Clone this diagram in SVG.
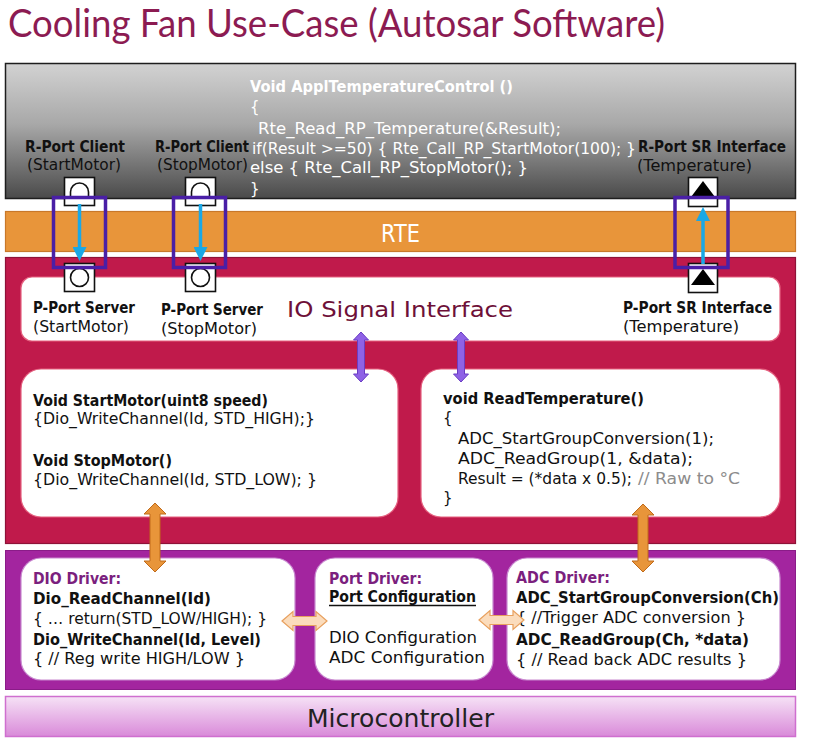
<svg xmlns="http://www.w3.org/2000/svg" width="816" height="746" viewBox="0 0 816 746">
  <defs>
    <linearGradient id="swcGrad" x1="0" y1="0" x2="0" y2="1">
      <stop offset="0" stop-color="#d2d2d2"/>
      <stop offset="0.45" stop-color="#a8a8a8"/>
      <stop offset="1" stop-color="#4a4a4a"/>
    </linearGradient>
    <linearGradient id="mcuGrad" x1="0" y1="0" x2="0" y2="1">
      <stop offset="0" stop-color="#f6e2f6"/>
      <stop offset="1" stop-color="#d98ad9"/>
    </linearGradient>
    <marker id="cyanHead" markerWidth="4" markerHeight="4" refX="2" refY="2" orient="auto" markerUnits="strokeWidth">
      <path d="M0,0 L4,2 L0,4 Z" fill="#1aa8e6"/>
    </marker>
    <style>
      text { font-family: "DejaVu Sans", "Liberation Sans", sans-serif; font-size: 15px; fill: #111; }
      .b { font-weight: bold; }
      .w { fill: #ffffff; }
      .drv { font-weight: bold; fill: #7b1f7e; }
      .cmt { fill: #8c8c8c; }
      .port { fill: #ffffff; stroke: #111; stroke-width: 1.6; }
      .frame { fill: none; stroke: #4a1fa6; stroke-width: 3.5; }
      .wbox { fill: #ffffff; stroke: #e5607f; stroke-width: 1.2; }
      .pbox { fill: #ffffff; stroke: #c98ad0; stroke-width: 1.2; }
      .cyan { stroke: #1aa8e6; stroke-width: 3.5; fill: none; }
      .parrow { fill: #8f62e6; stroke: #6a3cc4; stroke-width: 1; }
      .oarrow { fill: #e8953a; stroke: #c06a1a; stroke-width: 1; }
      .larrow { fill: #fbdcbc; stroke: #e8a05e; stroke-width: 1.2; }
    </style>
  </defs>

  <rect width="816" height="746" fill="#ffffff"/>

  <!-- title -->
  <text x="8" y="37" style="font-family: Lato, 'Open Sans', sans-serif; font-size: 38px; fill: #8c1b52;" textLength="657" lengthAdjust="spacingAndGlyphs">Cooling Fan Use-Case (Autosar Software)</text>

  <!-- application software component -->
  <g id="app-swc">
    <rect x="5.5" y="63.5" width="790" height="135" fill="url(#swcGrad)" stroke="#1e1e1e" stroke-width="1.5"/>
    <text class="b w" x="250" y="92" textLength="263" lengthAdjust="spacingAndGlyphs">Void ApplTemperatureControl ()</text>
    <text class="w" x="250" y="112">{</text>
    <text class="w" x="258" y="134" textLength="303" lengthAdjust="spacingAndGlyphs">Rte_Read_RP_Temperature(&amp;Result);</text>
    <text class="w" x="252" y="154" textLength="384" lengthAdjust="spacingAndGlyphs">if(Result &gt;=50) { Rte_Call_RP_StartMotor(100); }</text>
    <text class="w" x="250" y="173" textLength="278" lengthAdjust="spacingAndGlyphs">else { Rte_Call_RP_StopMotor(); }</text>
    <text class="w" x="250" y="194">}</text>
  </g>

  <!-- RTE -->
  <g id="rte">
    <rect x="5.5" y="211.5" width="790" height="40" fill="#e8953a" stroke="#c8782a" stroke-width="1.2"/>
    <text x="381" y="242" style="font-size: 25px; fill: #ffffff;" textLength="39" lengthAdjust="spacingAndGlyphs">RTE</text>
  </g>

  <!-- IO hardware abstraction -->
  <g id="io-abstraction">
    <rect x="5.5" y="257.5" width="790" height="286" fill="#c01a4b" stroke="#8e1238" stroke-width="1.2"/>
  </g>

  <g id="io-signal-interface">
    <rect class="wbox" x="21" y="277" width="759" height="64" rx="11"/>
    <text x="287" y="317" style="font-size: 21px; fill: #6e1038;" textLength="226" lengthAdjust="spacingAndGlyphs">IO Signal Interface</text>
  </g>

  <g id="motor-functions">
    <rect class="wbox" x="21" y="369" width="377" height="148" rx="20"/>
    <text class="b" x="33" y="406" textLength="235" lengthAdjust="spacingAndGlyphs">Void StartMotor(uint8 speed)</text>
    <text x="33" y="424" textLength="282" lengthAdjust="spacingAndGlyphs">{Dio_WriteChannel(Id, STD_HIGH);}</text>
    <text class="b" x="33" y="466" textLength="139" lengthAdjust="spacingAndGlyphs">Void StopMotor()</text>
    <text x="33" y="485" textLength="284" lengthAdjust="spacingAndGlyphs">{Dio_WriteChannel(Id, STD_LOW); }</text>
  </g>

  <g id="read-temperature">
    <rect class="wbox" x="421" y="369" width="359" height="148" rx="20"/>
    <text class="b" x="443" y="404" textLength="201" lengthAdjust="spacingAndGlyphs">void ReadTemperature()</text>
    <text x="443" y="423">{</text>
    <text x="458" y="444" textLength="256" lengthAdjust="spacingAndGlyphs">ADC_StartGroupConversion(1);</text>
    <text x="458" y="464" textLength="235" lengthAdjust="spacingAndGlyphs">ADC_ReadGroup(1, &amp;data);</text>
    <text x="458" y="484" textLength="174" lengthAdjust="spacingAndGlyphs">Result = (*data x 0.5);</text>
    <text class="cmt" x="638" y="484" textLength="102" lengthAdjust="spacingAndGlyphs">// Raw to °C</text>
    <text x="443" y="503">}</text>
  </g>

  <!-- MCAL drivers -->
  <g id="mcal">
    <rect x="5.5" y="550.5" width="790" height="139" fill="#a3259f" stroke="#8a1c88" stroke-width="1"/>
  </g>

  <g id="dio-driver">
    <rect class="pbox" x="21" y="558" width="274" height="122" rx="20"/>
    <text class="drv" x="33" y="584" textLength="88" lengthAdjust="spacingAndGlyphs">DIO Driver:</text>
    <text class="b" x="33" y="604" textLength="178" lengthAdjust="spacingAndGlyphs">Dio_ReadChannel(Id)</text>
    <text x="33" y="624" textLength="234" lengthAdjust="spacingAndGlyphs">{ … return(STD_LOW/HIGH); }</text>
    <text class="b" x="33" y="645" textLength="228" lengthAdjust="spacingAndGlyphs">Dio_WriteChannel(Id, Level)</text>
    <text x="33" y="664" textLength="212" lengthAdjust="spacingAndGlyphs">{ // Reg write HIGH/LOW }</text>
  </g>

  <g id="port-driver">
    <rect class="pbox" x="315" y="558" width="178" height="122" rx="20"/>
    <text class="drv" x="329" y="584" textLength="93" lengthAdjust="spacingAndGlyphs">Port Driver:</text>
    <text class="b" x="329" y="602" textLength="147" lengthAdjust="spacingAndGlyphs">Port Configuration</text>
    <line x1="329" y1="605.5" x2="476" y2="605.5" stroke="#111" stroke-width="1.4"/>
    <text x="329" y="643" textLength="148" lengthAdjust="spacingAndGlyphs">DIO Configuration</text>
    <text x="329" y="663" textLength="156" lengthAdjust="spacingAndGlyphs">ADC Configuration</text>
  </g>

  <g id="adc-driver">
    <rect class="pbox" x="507" y="558" width="273" height="122" rx="20"/>
    <text class="drv" x="516" y="583" textLength="94" lengthAdjust="spacingAndGlyphs">ADC Driver:</text>
    <text class="b" x="516" y="603" textLength="263" lengthAdjust="spacingAndGlyphs">ADC_StartGroupConversion(Ch)</text>
    <text x="516" y="623" textLength="230" lengthAdjust="spacingAndGlyphs">{ //Trigger ADC conversion }</text>
    <text class="b" x="516" y="645" textLength="233" lengthAdjust="spacingAndGlyphs">ADC_ReadGroup(Ch, *data)</text>
    <text x="516" y="665" textLength="231" lengthAdjust="spacingAndGlyphs">{ // Read back ADC results }</text>
  </g>

  <!-- microcontroller -->
  <g id="microcontroller">
    <rect x="5.5" y="696.5" width="790" height="40" fill="url(#mcuGrad)" stroke="#cf6fcf" stroke-width="1.5"/>
    <text x="307" y="727" style="font-size: 24px; fill: #222;" textLength="187" lengthAdjust="spacingAndGlyphs">Microcontroller</text>
  </g>

  <!-- port labels -->
  <g id="port-labels">
    <text class="b" x="25" y="152" textLength="100" lengthAdjust="spacingAndGlyphs">R-Port Client</text>
    <text x="27" y="170" textLength="94" lengthAdjust="spacingAndGlyphs">(StartMotor)</text>
    <text class="b" x="155" y="152" textLength="94" lengthAdjust="spacingAndGlyphs">R-Port Client</text>
    <text x="157" y="170" textLength="91" lengthAdjust="spacingAndGlyphs">(StopMotor)</text>
    <text class="b" x="638" y="152" textLength="148" lengthAdjust="spacingAndGlyphs">R-Port SR Interface</text>
    <text x="637" y="171" textLength="115" lengthAdjust="spacingAndGlyphs">(Temperature)</text>

    <text class="b" x="33" y="313" textLength="102" lengthAdjust="spacingAndGlyphs">P-Port Server</text>
    <text x="33" y="332" textLength="96" lengthAdjust="spacingAndGlyphs">(StartMotor)</text>
    <text class="b" x="161" y="315" textLength="102" lengthAdjust="spacingAndGlyphs">P-Port Server</text>
    <text x="161" y="334" textLength="96" lengthAdjust="spacingAndGlyphs">(StopMotor)</text>
    <text class="b" x="623" y="313" textLength="149" lengthAdjust="spacingAndGlyphs">P-Port SR Interface</text>
    <text x="623" y="332" textLength="116" lengthAdjust="spacingAndGlyphs">(Temperature)</text>
  </g>

  <!-- ports -->
  <g id="rport-startmotor">
    <rect class="port" x="64.5" y="177.5" width="30" height="28"/>
    <path d="M70.5,199 V192 A9,9 0 0 1 88.5,192 V199" fill="none" stroke="#111" stroke-width="1.6"/>
  </g>
  <g id="rport-stopmotor">
    <rect class="port" x="185.5" y="177.5" width="30" height="28"/>
    <path d="M191.5,199 V192 A9,9 0 0 1 209.5,192 V199" fill="none" stroke="#111" stroke-width="1.6"/>
  </g>
  <g id="rport-temperature">
    <rect class="port" x="688.5" y="177.5" width="29" height="29"/>
    <polygon points="691,197 715,197 703,181" fill="#000"/>
  </g>
  <g id="pport-startmotor">
    <rect class="port" x="64.5" y="263.5" width="30" height="28"/>
    <circle cx="79.5" cy="277.5" r="9" fill="none" stroke="#111" stroke-width="1.6"/>
  </g>
  <g id="pport-stopmotor">
    <rect class="port" x="185.5" y="263.5" width="30" height="28"/>
    <circle cx="200.5" cy="277.5" r="9" fill="none" stroke="#111" stroke-width="1.6"/>
  </g>
  <g id="pport-temperature">
    <rect class="port" x="688.5" y="263.5" width="29" height="29"/>
    <polygon points="691,285 715,285 703,269" fill="#000"/>
  </g>

  <!-- connectors -->
  <g id="connectors">
    <line class="cyan" x1="79.5" y1="204" x2="79.5" y2="254" marker-end="url(#cyanHead)"/>
    <line class="cyan" x1="200.5" y1="204" x2="200.5" y2="254" marker-end="url(#cyanHead)"/>
    <line class="cyan" x1="703" y1="264" x2="703" y2="214" marker-end="url(#cyanHead)"/>

    <rect class="frame" x="53.5" y="197.5" width="52" height="70"/>
    <rect class="frame" x="173.5" y="197.5" width="52" height="70"/>
    <rect class="frame" x="675" y="197.5" width="53" height="70"/>

    <polygon class="parrow" points="361,332 368.5,340 364.5,340 364.5,374 368.5,374 361,382 353.5,374 357.5,374 357.5,340 353.5,340"/>
    <polygon class="parrow" points="461,332 468.5,340 464.5,340 464.5,374 468.5,374 461,382 453.5,374 457.5,374 457.5,340 453.5,340"/>

    <polygon class="oarrow" points="155,503 166,514 160,514 160,561 166,561 155,572 144,561 150,561 150,514 144,514"/>
    <polygon class="oarrow" points="643,504 654,515 648,515 648,561 654,561 643,572 632,561 638,561 638,515 632,515"/>

    <polygon class="larrow" points="282,621 293,611.5 293,616.5 316,616.5 316,611.5 327,621 316,630.5 316,625.5 293,625.5 293,630.5"/>
    <polygon class="larrow" points="479,620 490,610.5 490,615.5 513,615.5 513,610.5 524,620 513,629.5 513,624.5 490,624.5 490,629.5"/>
  </g>
</svg>
